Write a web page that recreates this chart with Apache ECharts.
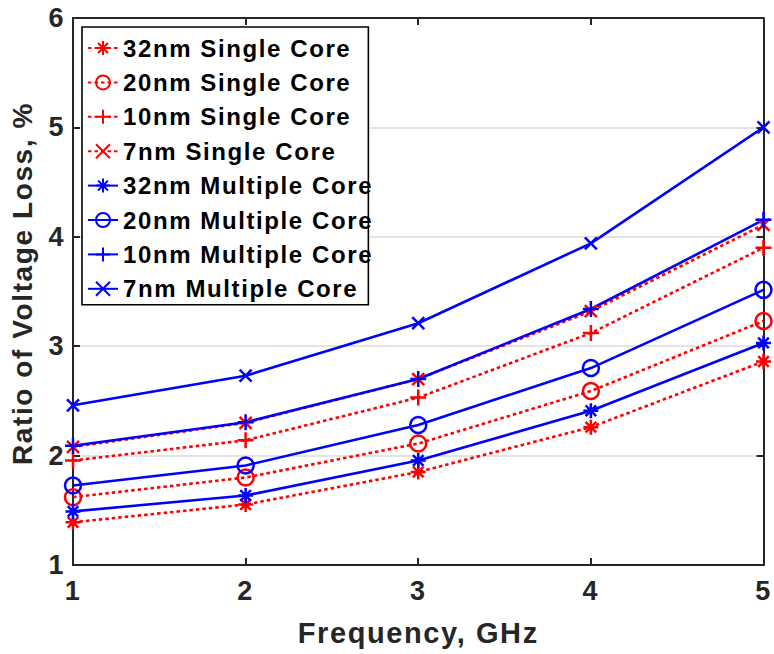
<!DOCTYPE html>
<html>
<head>
<meta charset="utf-8">
<script src="https://cdn.jsdelivr.net/npm/echarts@6/dist/echarts.min.js"></script>
<style>
  html, body { margin: 0; padding: 0; background: #fff; }
  #chart { width: 774px; height: 654px; }
  /* slightly open tracking for all chart text */
  #chart text { letter-spacing: 1.6px; }
</style>
</head>
<body>
<div id="chart"></div>
<script>
// Frequencies (GHz) on the x axis
const frequencies = [1, 2, 3, 4, 5];
const xTicks = [1, 2, 3, 4, 5];
const yTicks = [1, 2, 3, 4, 5, 6];

// Ratio of voltage loss (%) per technology node
const single32 = [1.39, 1.553, 1.85, 2.26, 2.86];
const single20 = [1.62, 1.80, 2.11, 2.59, 3.23];
const single10 = [1.955, 2.14, 2.53, 3.12, 3.90];
const single7 = [2.08, 2.30, 2.70, 3.32, 4.11];
const multi32 = [1.49, 1.635, 1.955, 2.41, 3.03];
const multi20 = [1.727, 1.91, 2.28, 2.80, 3.515];
const multi10 = [2.09, 2.305, 2.70, 3.34, 4.155];
const multi7 = [2.46, 2.73, 3.21, 3.94, 5.00];

const names = [
  '32nm Single Core', '20nm Single Core', '10nm Single Core', '7nm Single Core',
  '32nm Multiple Core', '20nm Multiple Core', '10nm Multiple Core', '7nm Multiple Core'
];
const values = [single32, single20, single10, single7, multi32, multi20, multi10, multi7];

// Stroked marker shapes
const SYM = {
  asterisk: 'path://M0,-10L0,10M-10,0L10,0M-7.07,-7.07L7.07,7.07M-7.07,7.07L7.07,-7.07',
  circle: 'path://M10,0A10,10 0 1,1 -10,0A10,10 0 1,1 10,0Z',
  plus: 'path://M0,-10L0,10M-10,0L10,0',
  cross: 'path://M-10,-10L10,10M-10,10L10,-10'
};
const shapes = ['asterisk', 'circle', 'plus', 'cross'];
const sizes = { asterisk: 15, circle: 16, plus: 16, cross: 12 };

const RED = '#ff0000';
const BLUE = '#0000ff';
const INK = '#262626';
const FONT = 'Liberation Sans, Arial, Helvetica, sans-serif';

const series = names.map((name, i) => {
  const single = i < 4;
  const color = single ? RED : BLUE;
  const shape = shapes[i % 4];
  return {
    name: name,
    type: 'line',
    data: frequencies.map((f, k) => [f, values[i][k]]),
    symbol: SYM[shape],
    symbolSize: sizes[shape],
    showAllSymbol: true,
    lineStyle: {
      color: color,
      width: 2.6,
      type: single ? [3.5, 3] : 'solid',
      cap: 'butt'
    },
    itemStyle: {
      color: 'rgba(0,0,0,0)',
      borderColor: color,
      borderWidth: 2.5
    },
    emphasis: { disabled: true },
    animation: false
  };
});

const chart = echarts.init(document.getElementById('chart'), null, { renderer: 'svg' });

const axisLine = { show: true, onZero: false, lineStyle: { color: INK, width: 2 } };
const tickIn = { show: true, inside: true, length: 7, lineStyle: { color: INK, width: 2 } };

chart.setOption({
  backgroundColor: '#ffffff',
  animation: false,
  grid: { left: 72, right: 7, top: 18, bottom: 89, containLabel: false },
  legend: {
    orient: 'vertical',
    left: 82,
    top: 27,
    padding: [8, 24, 3, 5],
    itemWidth: 30,
    itemHeight: 17.5,
    itemGap: 8.4,
    backgroundColor: '#ffffff',
    borderColor: '#000000',
    borderWidth: 1.6,
    selectedMode: false,
    textStyle: { color: '#000000', fontSize: 24, fontWeight: 'bold', fontFamily: FONT, lineHeight: 26 },
    data: names
  },
  xAxis: [
    {
      type: 'value',
      min: xTicks[0],
      max: xTicks[xTicks.length - 1],
      interval: 1,
      name: 'Frequency, GHz',
      nameLocation: 'middle',
      nameGap: 53,
      nameTextStyle: { color: INK, fontSize: 29, fontWeight: 'bold', fontFamily: FONT },
      axisLine: axisLine,
      axisTick: tickIn,
      splitLine: { show: false },
      axisLabel: { color: INK, fontSize: 27, fontWeight: 'bold', fontFamily: FONT, margin: 12 }
    },
    {
      type: 'value',
      position: 'top',
      min: xTicks[0],
      max: xTicks[xTicks.length - 1],
      interval: 1,
      axisLine: axisLine,
      axisTick: tickIn,
      axisLabel: { show: false },
      splitLine: { show: false }
    }
  ],
  yAxis: [
    {
      type: 'value',
      min: yTicks[0],
      max: yTicks[yTicks.length - 1],
      interval: 1,
      name: 'Ratio of Voltage Loss, %',
      nameLocation: 'middle',
      nameGap: 37,
      nameTextStyle: { color: INK, fontSize: 28, fontWeight: 'bold', fontFamily: FONT, padding: [0, 0, 0, 16] },
      axisLine: axisLine,
      axisTick: tickIn,
      splitLine: { show: true, lineStyle: { color: '#e3e3e3', width: 2 } },
      axisLabel: { color: INK, fontSize: 27, fontWeight: 'bold', fontFamily: FONT, margin: 8 }
    },
    {
      type: 'value',
      position: 'right',
      min: yTicks[0],
      max: yTicks[yTicks.length - 1],
      interval: 1,
      axisLine: axisLine,
      axisTick: tickIn,
      axisLabel: { show: false },
      splitLine: { show: false }
    }
  ],
  series: series
});
</script>
</body>
</html>
